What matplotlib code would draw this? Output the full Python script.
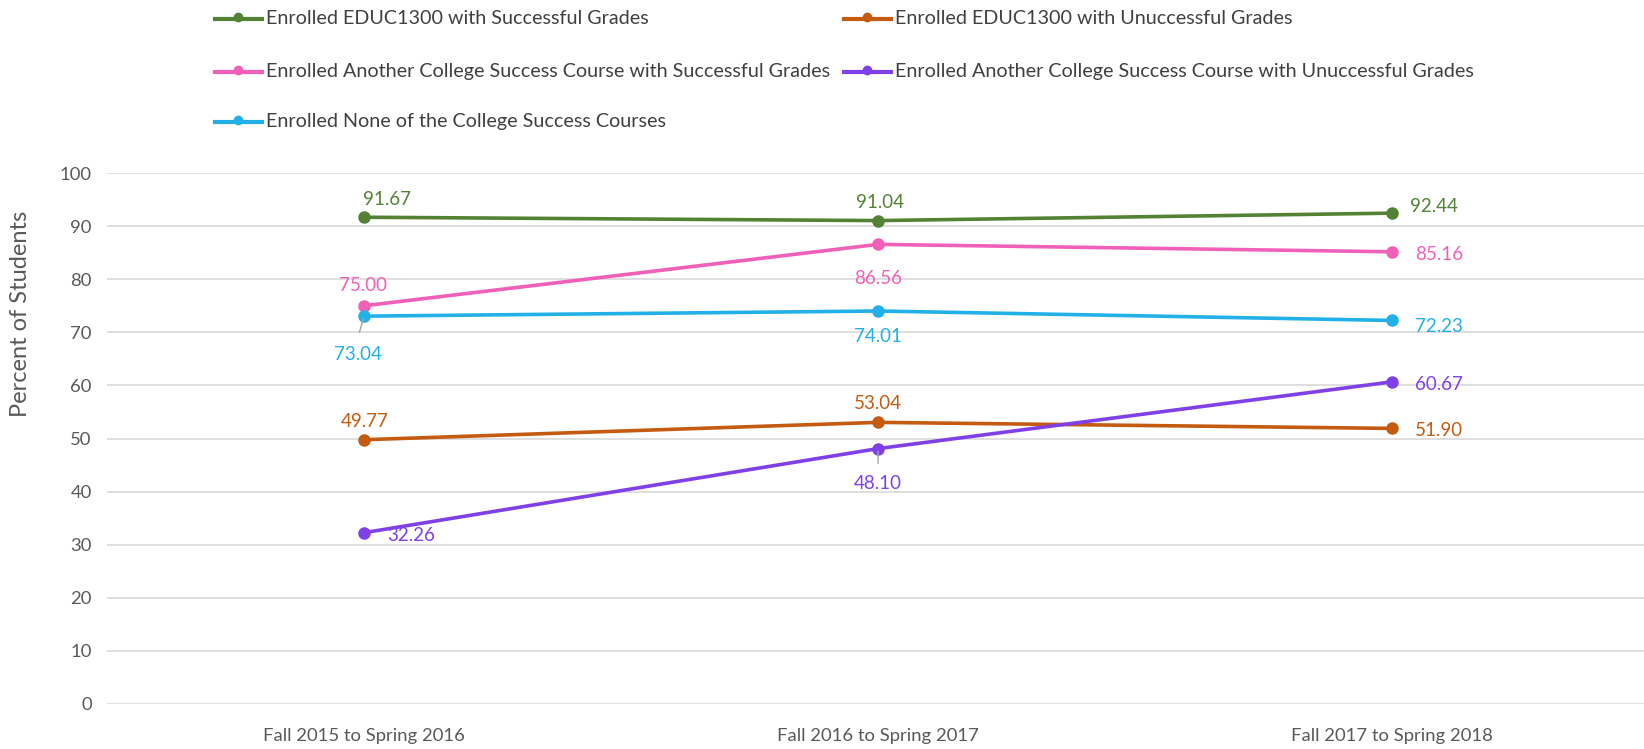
import matplotlib
matplotlib.use("Agg")
import matplotlib.pyplot as plt
from matplotlib.lines import Line2D

plt.rcParams["font.family"] = ["Lato", "DejaVu Sans"]

periods = ["Fall 2015 to Spring 2016", "Fall 2016 to Spring 2017", "Fall 2017 to Spring 2018"]

educ_success = [91.67, 91.04, 92.44]
educ_unsuccess = [49.77, 53.04, 51.90]
other_success = [75.00, 86.56, 85.16]
other_unsuccess = [32.26, 48.10, 60.67]
none_enrolled = [73.04, 74.01, 72.23]

names = [
    "Enrolled EDUC1300 with Successful Grades",
    "Enrolled Another College Success Course with Successful Grades",
    "Enrolled None of the College Success Courses",
    "Enrolled EDUC1300 with Unuccessful Grades",
    "Enrolled Another College Success Course with Unuccessful Grades",
]
series = [educ_success, other_success, none_enrolled, educ_unsuccess, other_unsuccess]
colors = ["#548235", "#F060B8", "#22B0E8", "#C55A11", "#8040E8"]

# label placement per point: (dx px, dy px up, ha, leader)
label_pos = [
    [(23, 18, "center", False), (2, 18, "center", False), (18, 7, "left", False)],
    [(-1, 20, "center", False), (0, -34, "center", False), (23, -3, "left", False)],
    [(-6, -38, "center", True), (0, -25, "center", False), (23, -6, "left", False)],
    [(1, 18, "center", False), (0, 19, "center", False), (23, -2, "left", False)],
    [(23, -3, "left", False), (0, -35, "center", True), (23, -3, "left", False)],
]

W, H = 1644, 749
fig = plt.figure(figsize=(W / 100, H / 100), dpi=100)
ax = fig.add_axes([107 / W, 1 - 704 / H, (W - 107) / W, (704 - 173) / H])

x = list(range(len(periods)))
for vals, col, pos in zip(series, colors, label_pos):
    ax.plot(x, vals, color=col, lw=2.6, marker="o", markersize=8, zorder=3,
            solid_capstyle="round")
    for xi, v, (dx, dy, ha, leader) in zip(x, vals, pos):
        ax.annotate(f"{v:.2f}", (xi, v), xytext=(dx, dy), textcoords="offset pixels",
                    ha=ha, va="center", color=col, fontsize=13.5, zorder=4)
        if leader:
            ax.annotate("", (xi, v), xytext=(dx * 0.9, dy * 0.5), textcoords="offset pixels",
                        arrowprops=dict(arrowstyle="-", color="#A6A6A6", lw=1))

ax.set_xlim(-0.5, 2.49)
ax.set_ylim(0, 100)
ax.set_yticks(range(0, 101, 10))
ax.set_xticks(x)
ax.set_xticklabels(periods)
ax.grid(axis="y", color="#D9D9D9", lw=1.2)
ax.set_axisbelow(True)
for s in ax.spines.values():
    s.set_visible(False)
ax.tick_params(length=0, labelsize=13.3, labelcolor="#595959")
ax.tick_params(axis="y", pad=11)
ax.tick_params(axis="x", pad=17)

fig.text(21 / W, 1 - 314 / H, "Percent of Students", rotation=90, ha="center", va="center",
         fontsize=17, color="#595959")

# legend, two columns
rows = [19, 72, 122, 19, 72]
cols = [215, 215, 215, 844, 844]
for name, col, ry, cx in zip(names, colors, rows, cols):
    yf = 1 - ry / H
    fig.add_artist(Line2D([cx / W, (cx + 47) / W], [yf, yf], color=col, lw=3,
                          transform=fig.transFigure))
    fig.add_artist(Line2D([(cx + 23) / W], [yf + 2 / H], color=col, marker="o", markersize=6,
                          transform=fig.transFigure))
    fig.text((cx + 51) / W, yf, name, ha="left", va="center", fontsize=14.2, color="#404040")

fig.savefig("out.png", dpi=100)
